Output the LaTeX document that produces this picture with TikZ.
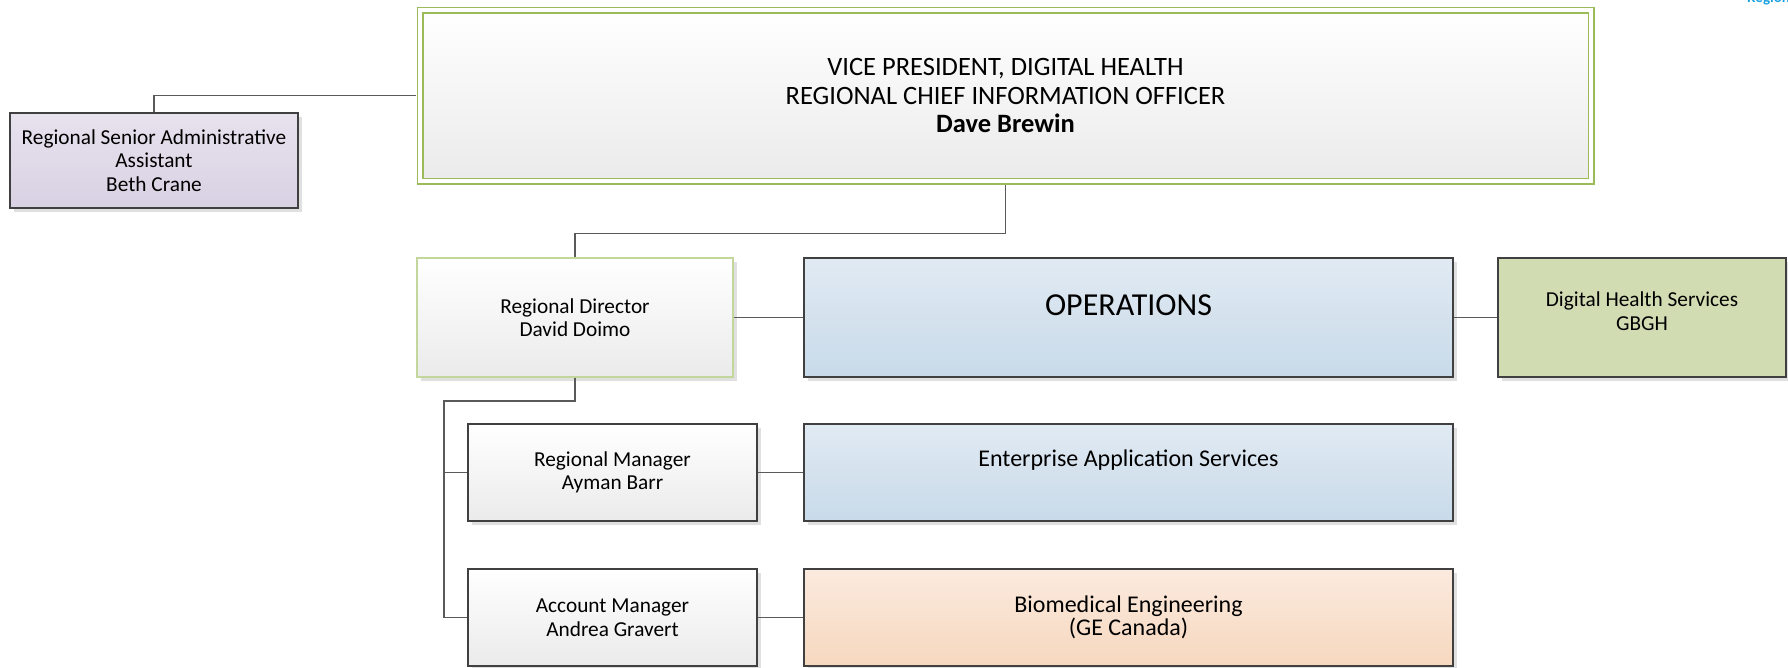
\documentclass[tikz,border=0pt]{standalone}
\usepackage{fontspec}
\setmainfont{Carlito}
\usetikzlibrary{shadows}
\definecolor{cardline}{HTML}{404040}
\definecolor{linkgray}{HTML}{5A5A5A}
\definecolor{vpgreen}{HTML}{9BBB59}
\definecolor{dirgreen}{HTML}{C3D69B}
\definecolor{lavtop}{HTML}{E7E2EE}
\definecolor{lavbot}{HTML}{D9D1E3}
\definecolor{opstop}{HTML}{E1EAF3}
\definecolor{opsbot}{HTML}{C8DAE9}
\definecolor{dhsfill}{HTML}{D2DCB3}
\definecolor{bmetop}{HTML}{FBEADF}
\definecolor{bmebot}{HTML}{F6D8BE}
\definecolor{webblue}{HTML}{1BA1E2}
\begin{document}
\begin{tikzpicture}[x=1pt, y=-1pt,
  card/.style={rectangle, draw=cardline, line width=1.3pt, inner sep=2pt, align=center,
    font=\fontsize{21.3}{23.5}\selectfont,
    drop shadow={shadow xshift=4pt, shadow yshift=-4pt, fill=black, opacity=0.12}},
  graycard/.style={card, top color=white, bottom color=black!8},
  bluecard/.style={card, top color=opstop, bottom color=opsbot},
  wide/.style={minimum width=649pt},
  tall/.style={minimum height=119pt},
  short/.style={minimum height=97pt},
  cardtext/.style={font=\fontsize{24}{24}\selectfont, align=center, inner sep=0pt},
  link/.style={draw=linkgray, line width=1.2pt}]
  \useasboundingbox (0,0) rectangle (1788,667);
  % Top of the chart
  \node[graycard, draw=vpgreen, line width=1.7pt, double=white, double distance=3.6pt,
        minimum width=1171pt, minimum height=171pt, font=\fontsize{26.5}{28.5}\selectfont]
    (vp) at (1005.5,95.5)
    {VICE PRESIDENT, DIGITAL HEALTH\\REGIONAL CHIEF INFORMATION OFFICER\\\textbf{Dave Brewin}};
  \node[card, top color=lavtop, bottom color=lavbot, minimum width=288pt, minimum height=95pt]
    (admin) at (154,160.5) {Regional Senior Administrative\\Assistant\\Beth Crane};
  % Director row
  \node[graycard, draw=dirgreen, minimum width=316pt, tall] (dir) at (575,317.5)
    {Regional Director\\David Doimo};
  \node[bluecard, wide, tall,
        label={[cardtext, font=\fontsize{32}{32}\selectfont, yshift=12.5pt]center:OPERATIONS}]
    (ops) at (1128.5,317.5) {};
  \node[card, fill=dhsfill, minimum width=288pt, tall,
        label={[cardtext, font=\fontsize{21.3}{23.5}\selectfont, yshift=6.5pt]center:Digital Health Services\\GBGH}]
    (dhs) at (1642,317.5) {};
  % Managers
  \node[graycard, minimum width=289pt, short] (rm) at (612.5,472.5) {Regional Manager\\Ayman Barr};
  \node[graycard, minimum width=289pt, short] (am) at (612.5,617.5) {Account Manager\\Andrea Gravert};
  \node[bluecard, wide, short,
        label={[cardtext, yshift=12.5pt]center:Enterprise Application Services}]
    (eas) at (1128.5,472.5) {};
  \node[card, top color=bmetop, bottom color=bmebot, wide, short,
        font=\fontsize{24}{23.5}\selectfont]
    (bme) at (1128.5,617.5) {Biomedical Engineering\\(GE Canada)};
  % Cut-off tag, top right
  \node[anchor=base west, inner sep=0pt, text=webblue,
        font=\fontsize{15}{18}\selectfont\bfseries] (tag) at (1747,2) {Regional};
  % Connectors
  \draw[link, shorten <=3.5pt] (vp.west) -| (admin.north);
  \draw[link, shorten <=3.5pt] (vp.south) -- ++(0,52) -| (dir.north);
  \coordinate (bus) at (444,401);
  \draw[link] (dir.south) |- (bus) |- (am.west);
  \draw[link] (bus) |- (rm.west);
  \foreach \a/\b in {dir/ops, ops/dhs, rm/eas, am/bme} {
    \draw[link] (\a.east) -- (\b.west);
  }
\end{tikzpicture}
\end{document}
